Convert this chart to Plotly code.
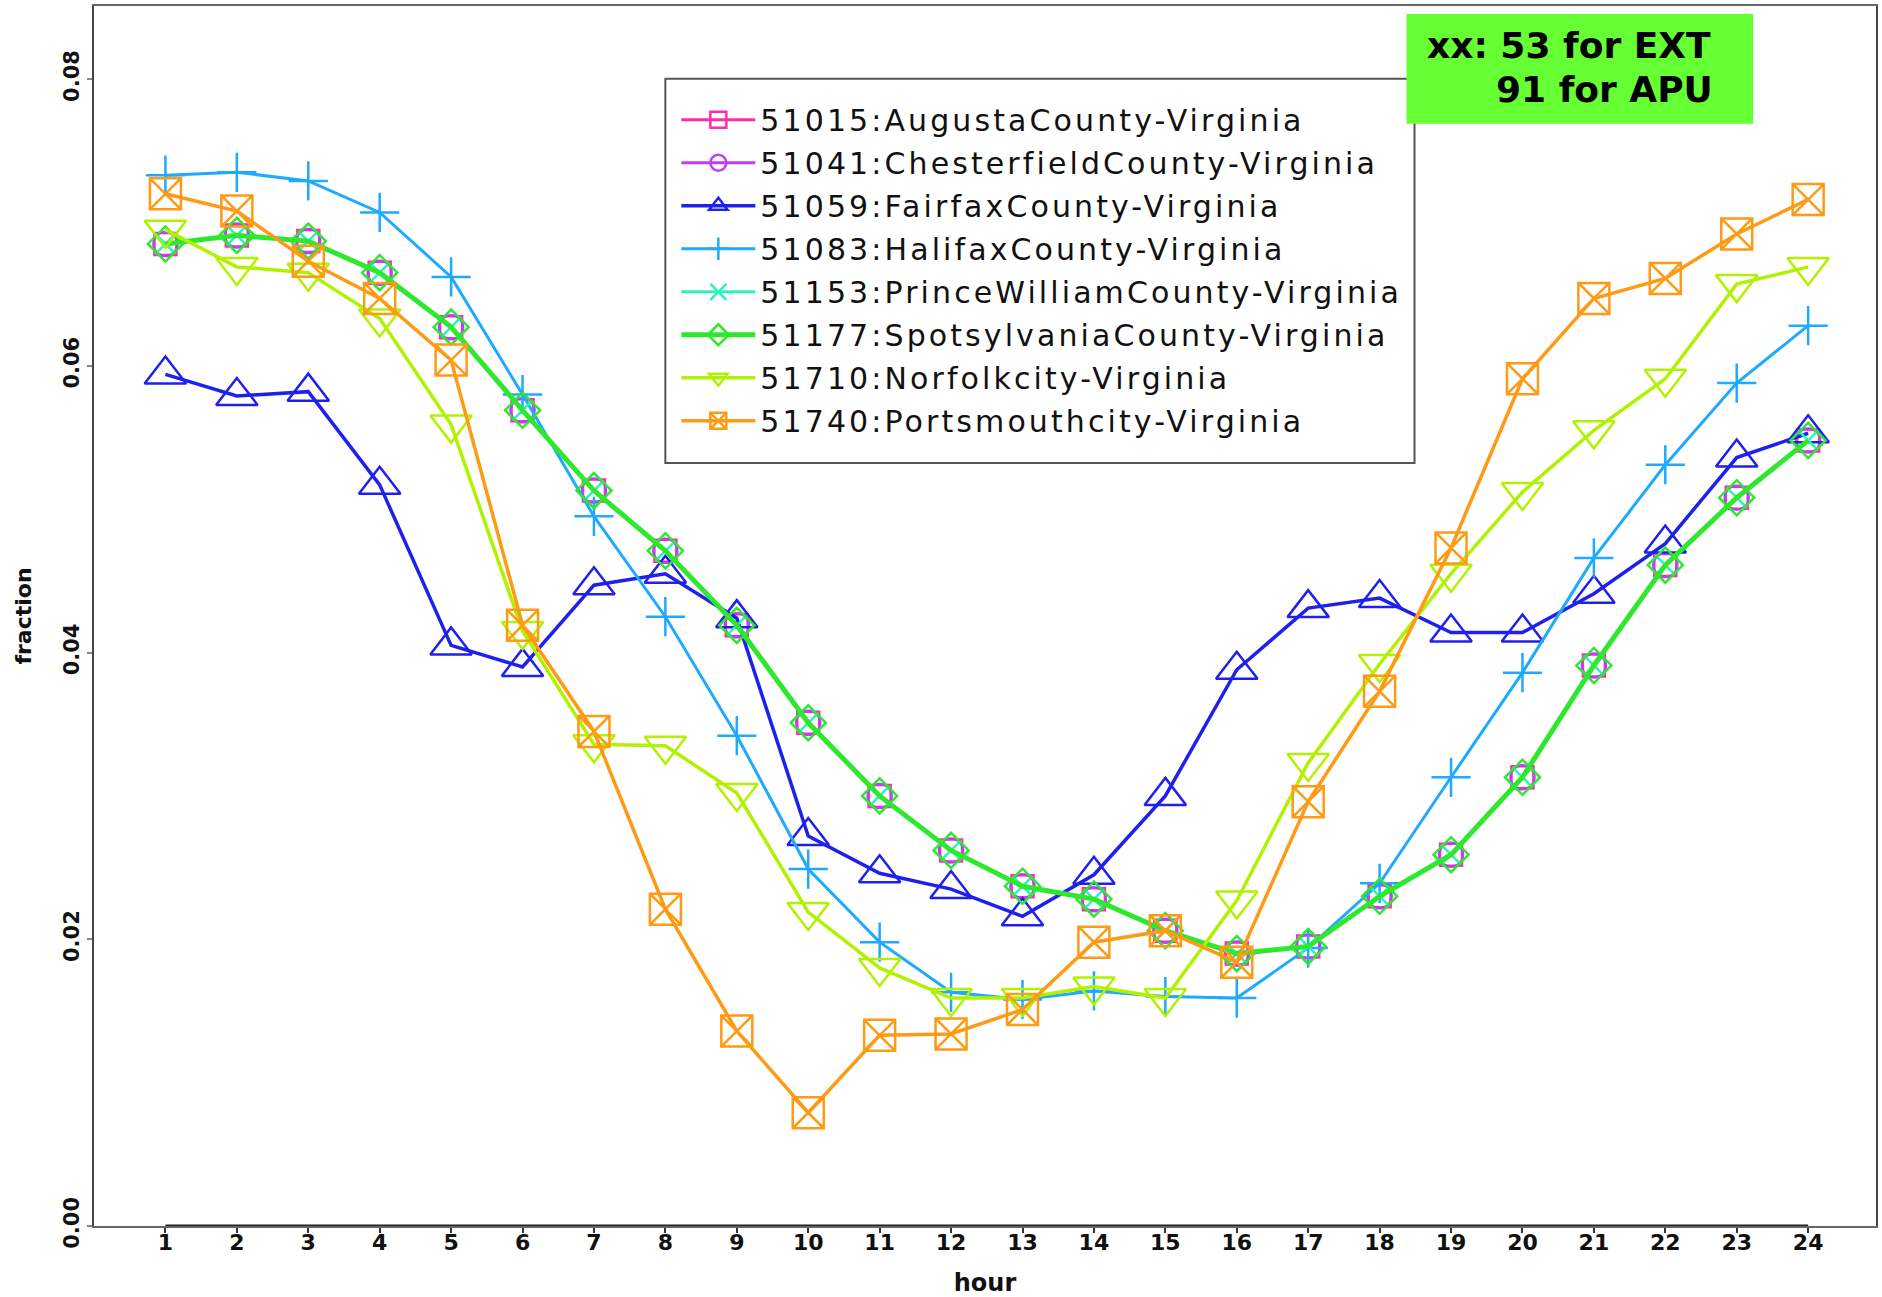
import plotly.graph_objects as go

# ---- data: fraction of daily activity per hour, by county/city ----
hours = list(range(1, 25))

augusta = [0.0685, 0.0691, 0.0687, 0.0665, 0.0627, 0.0569, 0.0513, 0.0471, 0.0419, 0.0351, 0.0300, 0.0262,
           0.0237, 0.0228, 0.0206, 0.0190, 0.0195, 0.0230, 0.0259, 0.0313, 0.0391, 0.0461, 0.0508, 0.0548]
chesterfield = [0.0685, 0.0691, 0.0687, 0.0665, 0.0627, 0.0569, 0.0513, 0.0471, 0.0419, 0.0351, 0.0300, 0.0262,
                0.0237, 0.0228, 0.0206, 0.0190, 0.0195, 0.0230, 0.0259, 0.0313, 0.0391, 0.0461, 0.0508, 0.0548]
fairfax = [0.0594, 0.0579, 0.0582, 0.0517, 0.0405, 0.0390, 0.0447, 0.0455, 0.0424, 0.0272, 0.0246, 0.0235,
           0.0216, 0.0245, 0.0300, 0.0388, 0.0431, 0.0438, 0.0414, 0.0414, 0.0441, 0.0476, 0.0536, 0.0553]
halifax = [0.0733, 0.0735, 0.0729, 0.0707, 0.0662, 0.0580, 0.0495, 0.0425, 0.0342, 0.0249, 0.0198, 0.0163,
           0.0158, 0.0164, 0.0160, 0.0159, 0.0194, 0.0239, 0.0313, 0.0386, 0.0466, 0.0531, 0.0588, 0.0628]
prince_william = [0.0685, 0.0691, 0.0687, 0.0665, 0.0627, 0.0569, 0.0513, 0.0471, 0.0419, 0.0351, 0.0300, 0.0262,
                  0.0237, 0.0228, 0.0206, 0.0190, 0.0195, 0.0230, 0.0259, 0.0313, 0.0391, 0.0461, 0.0508, 0.0548]
spotsylvania = [0.0685, 0.0691, 0.0687, 0.0665, 0.0627, 0.0569, 0.0513, 0.0471, 0.0419, 0.0351, 0.0300, 0.0262,
                0.0237, 0.0228, 0.0206, 0.0190, 0.0195, 0.0230, 0.0259, 0.0313, 0.0391, 0.0461, 0.0508, 0.0548]
norfolk = [0.0695, 0.0669, 0.0665, 0.0633, 0.0559, 0.0415, 0.0336, 0.0335, 0.0302, 0.0219, 0.0180, 0.0159,
           0.0159, 0.0167, 0.0159, 0.0227, 0.0323, 0.0392, 0.0455, 0.0512, 0.0555, 0.0591, 0.0657, 0.0669]
portsmouth = [0.0720, 0.0708, 0.0673, 0.0647, 0.0604, 0.0419, 0.0345, 0.0221, 0.0136, 0.0079, 0.0133, 0.0134,
              0.0151, 0.0198, 0.0206, 0.0184, 0.0296, 0.0373, 0.0473, 0.0591, 0.0647, 0.0661, 0.0692, 0.0716]

series_names = [
    "51015:AugustaCounty-Virginia",
    "51041:ChesterfieldCounty-Virginia",
    "51059:FairfaxCounty-Virginia",
    "51083:HalifaxCounty-Virginia",
    "51153:PrinceWilliamCounty-Virginia",
    "51177:SpotsylvaniaCounty-Virginia",
    "51710:Norfolkcity-Virginia",
    "51740:Portsmouthcity-Virginia",
]
series_values = [augusta, chesterfield, fairfax, halifax, prince_william, spotsylvania, norfolk, portsmouth]

y_tick_values = [0.00, 0.02, 0.04, 0.06, 0.08]
note_lines = ["xx: 53 for EXT", "91 for APU"]

# ---- styling ----
styles = [
    dict(color="#ff2fa8", symbol="square-open", size=22, lw=3),
    dict(color="#c03cff", symbol="circle-open", size=24, lw=3),
    dict(color="#2020ee", symbol="triangle-up-open", size=36, lw=3.5),
    dict(color="#1eaaff", symbol="cross-thin-open", size=28, lw=3),
    dict(color="#2cf2c0", symbol="x-thin-open", size=20, lw=3),
    dict(color="#2ee82e", symbol="diamond-open", size=27, lw=5),
    dict(color="#b2f200", symbol="triangle-down-open", size=36, lw=3.5),
    dict(color="#ff9a14", symbol="square-x-open", size=31, lw=3.5),
]

W, H = 1882, 1297
ML, MR, MT, MB = 94, 4, 5, 69
PW, PH = W - ML - MR, H - MT - MB


def px_x(p):
    return (p - ML) / PW


def px_y(p):
    return (H - MB - p) / PH


fig = go.Figure()
for i, (name, vals, st) in enumerate(zip(series_names, series_values, styles)):
    fig.add_trace(go.Scatter(
        x=hours, y=vals, mode="lines+markers",
        name='<span style="letter-spacing:3.1px">' + name + "</span>",
        legendgroup="g%d" % i,
        line=dict(color=st["color"], width=st["lw"]),
        marker=dict(symbol=st["symbol"], size=st["size"], color=st["color"],
                    line=dict(color=st["color"], width=2.5)),
    ))

BOLD = "DejaVu Sans, Liberation Sans, Arial, sans-serif"

fig.update_layout(
    width=W, height=H,
    margin=dict(l=ML, r=MR, t=MT, b=MB),
    paper_bgcolor="white", plot_bgcolor="white",
    showlegend=True,
    legend=dict(
        x=px_x(677), y=px_y(93), xanchor="left", yanchor="top",
        bgcolor="rgba(0,0,0,0)", borderwidth=0,
        font=dict(family="DejaVu Sans, Liberation Sans, sans-serif", size=30, color="#111"),
        tracegroupgap=1, itemwidth=74,
    ),
    xaxis=dict(
        range=[0, 24.95], tickvals=hours, ticktext=[str(h) for h in hours],
        showgrid=False, zeroline=False,
        showline=True, mirror=True, linecolor="#666", linewidth=2,
        ticks="outside", ticklen=5, tickwidth=1.5, tickcolor="#333",
        ticklabelstandoff=-9,
        tickfont=dict(family=BOLD, size=22, color="#111", weight="bold"),
        title=dict(text="<b>hour</b>", font=dict(family=BOLD, size=24, color="#111"), standoff=21),
    ),
    yaxis=dict(
        range=[0, 0.0851], tickvals=y_tick_values, tickformat=".2f",
        showgrid=False, zeroline=False,
        showline=True, mirror=True, linecolor="#444", linewidth=2,
        ticks="outside", ticklen=5, tickwidth=1.5, tickcolor="#888",
        tickangle=-90,
        tickfont=dict(family=BOLD, size=21, color="#111", weight="bold"),
        title=dict(text="<b>fraction</b>", font=dict(family=BOLD, size=22, color="#111"), standoff=22),
    ),
    shapes=[
        # axis baseline spanning the hour range
        dict(type="line", xref="x", yref="y", x0=hours[0], x1=hours[-1], y0=0, y1=0,
             line=dict(color="#222", width=3), layer="above"),
        # legend frame
        dict(type="rect", xref="paper", yref="paper",
             x0=px_x(666), x1=px_x(1416), y0=px_y(463), y1=px_y(78),
             fillcolor="white", line=dict(color="#555", width=2), layer="above"),
        # note box
        dict(type="rect", xref="paper", yref="paper",
             x0=px_x(1408), x1=px_x(1755), y0=px_y(123), y1=px_y(13),
             fillcolor="#66ff33", line=dict(width=0), layer="above"),
    ],
    annotations=[
        dict(text="<b>" + note_lines[0] + "</b>", xref="paper", yref="paper",
             x=px_x(1715), y=px_y(45), xanchor="right", yanchor="middle", showarrow=False,
             font=dict(family=BOLD, size=36, color="black")),
        dict(text="<b>" + note_lines[1] + "</b>", xref="paper", yref="paper",
             x=px_x(1717), y=px_y(89), xanchor="right", yanchor="middle", showarrow=False,
             font=dict(family=BOLD, size=36, color="black")),
    ],
)

fig.write_html("out.html")
